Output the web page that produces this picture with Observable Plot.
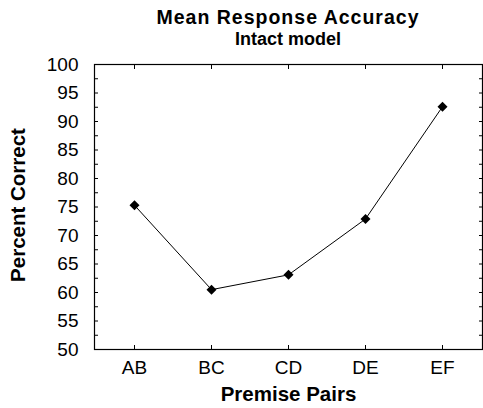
<!DOCTYPE html>
<html><head><meta charset="utf-8">
<script src="https://cdn.jsdelivr.net/npm/d3@7"></script>
<script src="https://cdn.jsdelivr.net/npm/@observablehq/plot@0.6"></script>
<style>
body{margin:0;background:#fff;}
#title{width:483px;height:50px;box-sizing:border-box;padding:7px 1px 0 94px;text-align:center;font:bold 18px "Liberation Sans",Arial,sans-serif;line-height:21.5px;color:#000;}
</style></head><body>
<div id="title"><div style="letter-spacing:1px;font-size:19.5px">Mean Response Accuracy</div><div>Intact model</div></div>
<div id="chart"></div>
<script>
const pairs = ["AB", "BC", "CD", "DE", "EF"];
const accuracy = [75.3, 60.5, 63.1, 72.9, 92.6];
const yTicks = [50, 55, 60, 65, 70, 75, 80, 85, 90, 95, 100];
const yMinorTicks = [50, 52.5, 55, 57.5, 60, 62.5, 65, 67.5, 70, 72.5, 75, 77.5, 80, 82.5, 85, 87.5, 90, 92.5, 95, 97.5, 100];
const xLabel = "Premise Pairs";
const yLabel = "Percent Correct";

const data = pairs.map((p, i) => ({pair: p, value: accuracy[i]}));
const font = '"Liberation Sans", Arial, sans-serif';

const chart = Plot.plot({
  width: 483, height: 358,
  marginTop: 14, marginBottom: 59, marginLeft: 94, marginRight: 1,
  style: {fontFamily: font, fontSize: "19px", color: "#000", background: "#fff", overflow: "visible"},
  x: {type: "point", domain: pairs, padding: 0.5, label: null},
  y: {domain: [50, 100], label: null},
  marks: [
    Plot.frame({stroke: "#000", strokeWidth: 1.2}),
    // inward ticks
    Plot.axisY(yMinorTicks, {anchor: "left", tickSize: 4, dx: 4, fill: "none", label: null}),
    Plot.axisY(yMinorTicks, {anchor: "right", tickSize: 4, dx: -4, fill: "none", label: null}),
    Plot.axisX(pairs, {anchor: "bottom", tickSize: 4, dy: -4, fill: "none", label: null}),
    Plot.axisX(pairs, {anchor: "top", tickSize: 4, dy: 4, fill: "none", label: null}),
    // tick labels
    Plot.axisY(yTicks, {anchor: "left", tickSize: 0, tickPadding: 16, stroke: "none", label: null, fontSize: 19}),
    Plot.axisX(pairs, {anchor: "bottom", tickSize: 0, tickPadding: 11, stroke: "none", label: null, fontSize: 19}),
    // axis titles
    Plot.text([xLabel], {frameAnchor: "bottom", text: d => d, dy: 45, textAnchor: "middle", lineAnchor: "middle",
      fontWeight: "bold", fontSize: 20.5, fill: "#000"}),
    Plot.text([yLabel], {frameAnchor: "left", text: d => d, dx: -76.5, dy: -2, rotate: -90,
      textAnchor: "middle", lineAnchor: "middle", fontWeight: "bold", fontSize: 20.5, fill: "#000"}),
    // data
    Plot.line(data, {x: "pair", y: "value", stroke: "#000", strokeWidth: 1}),
    Plot.dot(data, {x: "pair", y: "value", symbol: "diamond2", r: 4.5, fill: "#000", stroke: "none"})
  ]
});
document.getElementById("chart").appendChild(chart);
</script>
</body></html>
